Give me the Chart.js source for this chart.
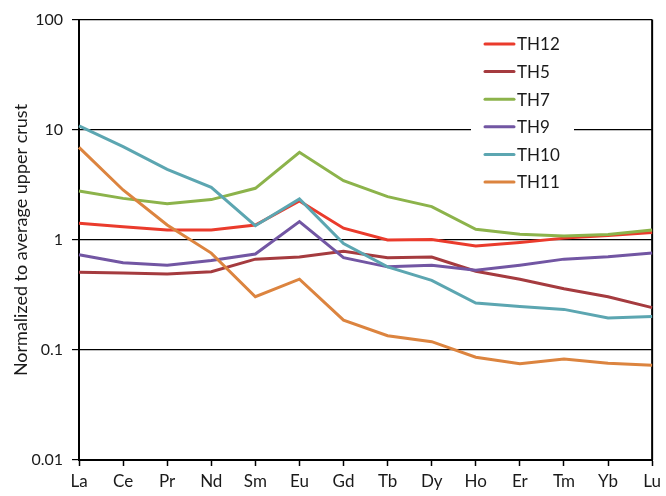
<!DOCTYPE html>
<html>
<head>
<meta charset="utf-8">
<script src="https://cdn.jsdelivr.net/npm/chart.js@4/dist/chart.umd.min.js"></script>
<style>
  html, body { margin: 0; padding: 0; background: #ffffff; }
  #wrap { width: 666px; height: 496px; }
</style>
</head>
<body>
<div id="wrap"><canvas id="c" width="666" height="496"></canvas></div>
<script>
// Rare earth elements along the x axis
const categories = ['La', 'Ce', 'Pr', 'Nd', 'Sm', 'Eu', 'Gd', 'Tb', 'Dy', 'Ho', 'Er', 'Tm', 'Yb', 'Lu'];

// Sample names and their colours
const seriesNames = ['TH12', 'TH5', 'TH7', 'TH9', 'TH10', 'TH11'];
const seriesColors = ['#EA3B2C', '#A53B3F', '#8CB34B', '#7256A3', '#5CA6B1', '#DC843F'];

// Concentrations normalized to average upper crust
const th12 = [1.42, 1.32, 1.23, 1.23, 1.37, 2.26, 1.28, 1.00, 1.01, 0.88, 0.95, 1.04, 1.10, 1.17];
const th5  = [0.51, 0.50, 0.49, 0.515, 0.67, 0.70, 0.79, 0.69, 0.70, 0.52, 0.44, 0.36, 0.305, 0.243];
const th7  = [2.79, 2.39, 2.14, 2.33, 2.95, 6.27, 3.46, 2.48, 2.01, 1.25, 1.13, 1.09, 1.12, 1.23];
const th9  = [0.735, 0.62, 0.59, 0.65, 0.746, 1.47, 0.69, 0.57, 0.59, 0.53, 0.59, 0.67, 0.705, 0.76];
const th10 = [10.9, 7.05, 4.39, 3.01, 1.35, 2.36, 0.93, 0.57, 0.43, 0.267, 0.248, 0.234, 0.195, 0.202];
const th11 = [6.96, 2.85, 1.37, 0.76, 0.305, 0.44, 0.187, 0.135, 0.119, 0.086, 0.075, 0.083, 0.0757, 0.0726];

// Decade ticks of the log axis
const yTicks = [0.01, 0.1, 1, 10, 100];
const yTickLabels = ['0.01', '0.1', '1', '10', '100'];

const seriesValues = [th12, th5, th7, th9, th10, th11];

const FONT = 'Lato, "Open Sans", "DejaVu Sans", sans-serif';

const datasets = seriesNames.map((name, i) => ({
  label: name,
  data: seriesValues[i],
  borderColor: seriesColors[i],
  backgroundColor: seriesColors[i],
  borderWidth: 3,
  pointRadius: 0,
  tension: 0,
  fill: false,
  // later series are painted above earlier ones
  order: seriesNames.length - i
}));

// Right-hand frame line, legend box and legend entries
const framePlugin = {
  id: 'frameAndLegend',
  beforeDatasetsDraw(chart) {
    const { ctx, chartArea } = chart;
    ctx.save();
    ctx.strokeStyle = '#000000';
    ctx.lineWidth = 2;
    ctx.beginPath();
    ctx.moveTo(chartArea.right, chartArea.top - 0.5);
    ctx.lineTo(chartArea.right, chartArea.bottom);
    ctx.stroke();
    // legend background hides the gridline behind it
    ctx.fillStyle = '#ffffff';
    ctx.fillRect(chartArea.left + 392, chartArea.top + 6, 103, 170);
    ctx.restore();
  },
  afterDatasetsDraw(chart) {
    const { ctx, chartArea } = chart;
    const x0 = chartArea.left + 406;
    const y0 = chartArea.top + 24;
    const rowH = 27.6;
    ctx.save();
    ctx.font = '17px ' + FONT;
    ctx.textBaseline = 'middle';
    ctx.textAlign = 'left';
    seriesNames.forEach((name, i) => {
      const y = y0 + i * rowH;
      ctx.strokeStyle = seriesColors[i];
      ctx.lineWidth = 3;
      ctx.lineCap = 'round';
      ctx.beginPath();
      ctx.moveTo(x0, y);
      ctx.lineTo(x0 + 29, y);
      ctx.stroke();
      ctx.fillStyle = '#1a1a1a';
      ctx.fillText(name, x0 + 32, y + 1);
    });
    ctx.restore();
  }
};

new Chart(document.getElementById('c'), {
  type: 'line',
  data: { labels: categories, datasets },
  options: {
    responsive: false,
    animation: false,
    events: [],
    layout: { padding: { top: 20, right: 11, left: 0, bottom: 0 } },
    plugins: {
      legend: { display: false },
      tooltip: { enabled: false },
      title: { display: false }
    },
    scales: {
      x: {
        type: 'category',
        offset: false,
        grid: {
          drawOnChartArea: false,
          drawTicks: true,
          tickLength: 6,
          tickWidth: 1.5,
          tickColor: '#000000'
        },
        border: { display: true, color: '#000000', width: 2 },
        ticks: {
          autoSkip: false,
          maxRotation: 0,
          minRotation: 0,
          padding: 5,
          color: '#1a1a1a',
          font: { family: FONT, size: 17 }
        },
        afterFit(scale) { scale.height = 36; }
      },
      y: {
        type: 'logarithmic',
        min: 0.01,
        max: 100,
        afterBuildTicks(scale) {
          scale.ticks = yTicks.map(v => ({ value: v, major: true }));
        },
        grid: {
          color: '#000000',
          lineWidth: 1.2,
          drawTicks: true,
          tickLength: 7,
          tickColor: '#000000'
        },
        border: { display: true, color: '#000000', width: 2 },
        ticks: {
          padding: 9,
          color: '#1a1a1a',
          font: { family: FONT, size: 16 },
          callback(value) {
            const k = yTicks.indexOf(value);
            return k >= 0 ? yTickLabels[k] : '';
          }
        },
        title: {
          display: true,
          text: 'Normalized to average upper crust',
          color: '#1a1a1a',
          font: { family: FONT, size: 18 },
          padding: { top: 10, bottom: 0 }
        },
        afterFit(scale) { scale.width = 79; }
      }
    }
  },
  plugins: [framePlugin]
});
</script>
</body>
</html>
